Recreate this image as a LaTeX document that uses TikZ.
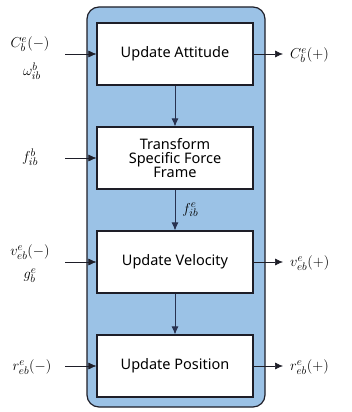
\documentclass[tikz,border=0pt]{standalone}
\usepackage{fontspec}
\setsansfont{Noto Sans}
\usetikzlibrary{arrows.meta}
\definecolor{panel}{RGB}{155,194,230}
\definecolor{edge}{RGB}{30,30,40}
\definecolor{link}{RGB}{40,50,80}
\begin{document}
\begin{tikzpicture}[x=1pt,y=-1pt,
  stepbox/.style={draw=edge,line width=1.2pt,fill=white,minimum width=156pt,minimum height=62pt,
    font=\sffamily\fontsize{14.5}{17}\selectfont,align=center,inner sep=0pt},
  lab/.style={font=\fontsize{15}{17}\selectfont,inner sep=0pt},
  arr/.style={draw=edge,line width=0.6pt,-{Latex[length=8pt,width=7pt]}},
  inarr/.style={draw=link,line width=0.8pt,-{Latex[length=8pt,width=7pt]}}]
\useasboundingbox (0,0) rectangle (352,412);
\node[draw=edge,line width=1.2pt,fill=panel,rounded corners=12pt,minimum width=178pt,minimum height=400pt,inner sep=0pt] (panel) at (176,207) {};
\node[stepbox] (att) at (175,54) {Update Attitude};
\node[stepbox] (sf) at (175,158) {Transform\\[-3pt]Specific Force\\[-3pt]Frame};
\node[stepbox] (vel) at (175,262) {Update Velocity};
\node[stepbox] (pos) at (175,366) {Update Position};
\draw[inarr] (att) -- (sf);
\draw[inarr] (sf) -- node[right=7pt,lab,font=\fontsize{15}{17}\selectfont] (fl) {$f^{e}_{ib}$} (vel);
\draw[inarr] (vel) -- (pos);
% inputs
\coordinate (i1) at (65,54);
\coordinate (i2) at (65,158);
\coordinate (i3) at (65,262);
\coordinate (i4) at (65,366);
\draw[arr] (i1) -- (att.west);
\draw[arr] (i2) -- (sf.west);
\draw[arr] (i3) -- (vel.west);
\draw[arr] (i4) -- (pos.west);
\node[lab] (c1) at (30,44) {$C^{e}_{b}(-)$};
\node[lab] (w1) at (32,71) {$\omega^{b}_{ib}$};
\node[lab] (f1) at (30,157) {$f^{b}_{ib}$};
\node[lab] (v1) at (30,252) {$v^{e}_{eb}(-)$};
\node[lab] (g1) at (30,276) {$g^{e}_{b}$};
\node[lab] (r1) at (32,367) {$r^{e}_{eb}(-)$};
% outputs
\coordinate (o1) at (283,54);
\coordinate (o3) at (283,262);
\coordinate (o4) at (283,366);
\draw[arr] (att.east) -- (o1);
\draw[arr] (vel.east) -- (o3);
\draw[arr] (pos.east) -- (o4);
\node[lab,anchor=west] (c2) at (290,55) {$C^{e}_{b}(+)$};
\node[lab,anchor=west] (v2) at (290,263) {$v^{e}_{eb}(+)$};
\node[lab,anchor=west] (r2) at (290,367) {$r^{e}_{eb}(+)$};
\end{tikzpicture}
\end{document}
